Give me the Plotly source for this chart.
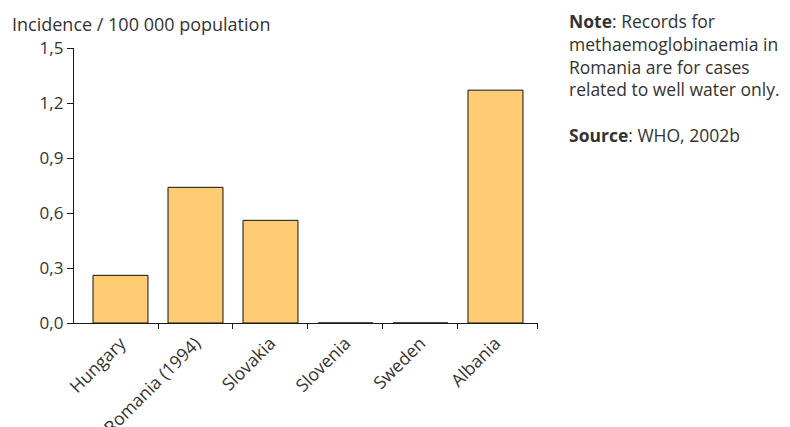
import plotly.graph_objects as go

categories = ["Hungary", "Romania (1994)", "Slovakia", "Slovenia", "Sweden", "Albania"]
values = [0.26, 0.74, 0.56, 0.0, 0.0, 1.27]
y_ticks = [0.0, 0.3, 0.6, 0.9, 1.2, 1.5]
y_tick_text = ["0,0", "0,3", "0,6", "0,9", "1,2", "1,5"]
y_title = "Incidence / 100 000 population"
note_text = ("<b>Note</b>: Records for<br>methaemoglobinaemia in<br>Romania are for cases<br>"
             "related to well water only.<br><br><b>Source</b>: WHO, 2002b")

FONT = "Open Sans, Liberation Sans, sans-serif"
TXT = "#333333"
AX = "#1a1a1a"

xpos = list(range(len(categories)))
boundaries = [i + 0.5 for i in range(len(categories) - 1)] + [5.56]

fig = go.Figure()
fig.add_trace(go.Bar(
    x=xpos, y=values, width=0.733,
    marker=dict(color="#FFCC73", line=dict(color="#111111", width=1)),
    hoverinfo="skip", showlegend=False,
))
# invisible trace activating the secondary x axis used for boundary tick marks
fig.add_trace(go.Scatter(x=[boundaries[0]], y=[0], xaxis="x2", mode="markers",
                         marker=dict(opacity=0), showlegend=False, hoverinfo="skip"))

PW = 464  # plot width in px
xr = [-0.62, 5.567]
fig.update_layout(
    width=782, height=419,
    margin=dict(l=66, r=252, t=40, b=104, autoexpand=False),
    paper_bgcolor="white", plot_bgcolor="white",
    font=dict(family=FONT, size=17, color=TXT),
    xaxis=dict(
        range=xr, tickmode="array", tickvals=xpos, ticktext=categories,
        tickangle=-45, ticks="", showgrid=False, zeroline=False, automargin=False,
        showline=True, linecolor=AX, linewidth=1.3, ticklabelstandoff=2,
        tickfont=dict(family=FONT, size=17.6, color=TXT),
    ),
    xaxis2=dict(
        range=xr, overlaying="x", side="bottom", anchor="y", automargin=False,
        tickmode="array", tickvals=boundaries, ticktext=[""] * len(boundaries),
        ticks="outside", ticklen=5, tickcolor=AX, tickwidth=1.3,
        showgrid=False, zeroline=False, showline=False, showticklabels=False,
    ),
    yaxis=dict(
        range=[0, 1.5], tickmode="array", tickvals=y_ticks, ticktext=y_tick_text,
        ticks="outside", ticklen=6, tickcolor=AX, tickwidth=1.3, automargin=False,
        showgrid=False, zeroline=False, showline=True, linecolor=AX, linewidth=1.3,
        tickfont=dict(family=FONT, size=17, color=TXT),
    ),
    annotations=[
        dict(text=y_title, xref="paper", yref="paper", x=(2 - 66) / PW, y=1.0,
             xanchor="left", yanchor="middle", yshift=24, showarrow=False,
             font=dict(family=FONT, size=18, color=TXT)),
        dict(text=note_text, xref="paper", yref="paper", x=(559 - 66) / PW, y=1.0,
             xanchor="left", yanchor="top", yshift=41, showarrow=False, align="left",
             font=dict(family=FONT, size=17.5, color=TXT)),
    ],
)

fig.write_html("out.html")
